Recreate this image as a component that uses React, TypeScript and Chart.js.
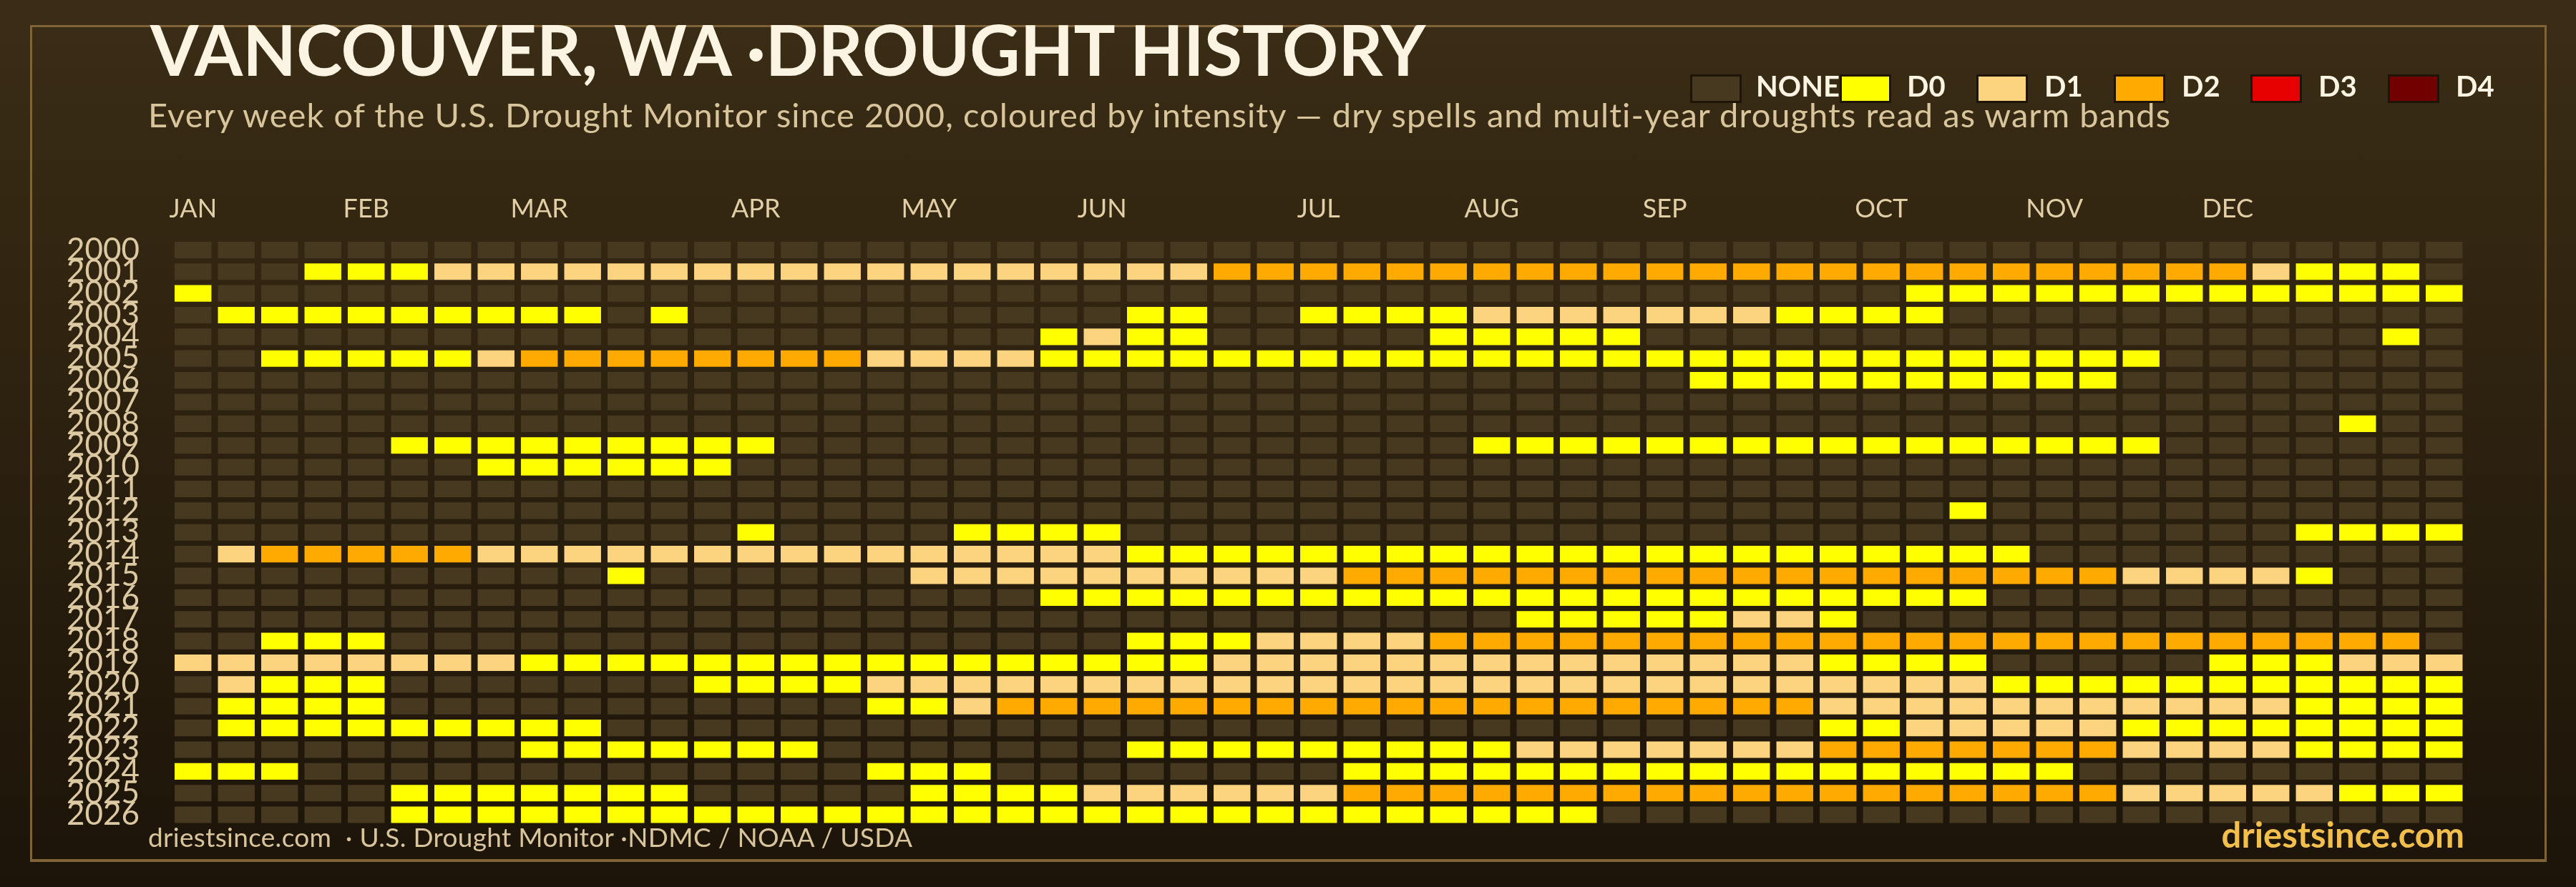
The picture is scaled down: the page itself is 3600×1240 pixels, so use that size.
import React, { useEffect, useRef } from "react";
import { Chart, registerables } from "chart.js";

Chart.register(...registerables);

// ---- data ----
const years = [
  "2000", "2001", "2002", "2003", "2004", "2005", "2006", "2007", "2008",
  "2009", "2010", "2011", "2012", "2013", "2014", "2015", "2016", "2017",
  "2018", "2019", "2020", "2021", "2022", "2023", "2024", "2025", "2026",
];

const monthLabels = ["JAN", "FEB", "MAR", "APR", "MAY", "JUN", "JUL", "AUG", "SEP", "OCT", "NOV", "DEC"];
const monthWeekIndex = [0, 4, 8, 13, 17, 21, 26, 30, 34, 39, 43, 47];

const levelNames = ["NONE", "D0", "D1", "D2", "D3", "D4"];
const levelColors = ["#473920", "#ffff00", "#fcd37f", "#ffaa00", "#e60000", "#730000"];

// weekly drought level per year: 0 none, 1 D0, 2 D1, 3 D2, 4 D3, 5 D4
// (groups: weeks 1-18 | 19-36 | 37-53)
const weekLevels = [
  "000000000000000000|000000000000000000|00000000000000000", // 2000
  "000111222222222222|222222333333333333|33333333333321110", // 2001
  "100000000000000000|000000000000000000|00001111111111111", // 2002
  "011111111101000000|000011001111222222|21111000000000000", // 2003
  "000000000000000000|001211000001111100|00000000000000010", // 2004
  "001111123333333322|221111111111111111|11111111110000000", // 2005
  "000000000000000000|000000000000000001|11111111100000000", // 2006
  "000000000000000000|000000000000000000|00000000000000000", // 2007
  "000000000000000000|000000000000000000|00000000000000100", // 2008
  "000001111111110000|000000000000111111|11111111110000000", // 2009
  "000000011111100000|000000000000000000|00000000000000000", // 2010
  "000000000000000000|000000000000000000|00000000000000000", // 2011
  "000000000000000000|000000000000000000|00000100000000000", // 2012
  "000000000000010000|111100000000000000|00000000000001111", // 2013
  "023333322222222222|222211111111111111|11111110000000000", // 2014
  "000000000010000002|222222222333333333|33333333322221000", // 2015
  "000000000000000000|001111111111111111|11111100000000000", // 2016
  "000000000000000000|000000000000011111|22100000000000000", // 2017
  "001110000000000000|000011122223333333|33333333333333330", // 2018
  "222222221111111111|111111222222222222|22111100000111222", // 2019
  "021110000000111122|222222222222222222|22222211111111111", // 2020
  "011110000000000011|233333333333333333|33222222222221111", // 2021
  "011111111100000000|000000000000000000|00112222211111111", // 2022
  "000000001111111000|000011111111122222|22333333322221111", // 2023
  "111000000000000011|100000000111111111|11111111000000000", // 2024
  "000001111111000001|111222222333333333|33333333322222111", // 2025
  "000001111111111111|111111111111111000|00000000000000000", // 2026
];

const FONT = "Lato, 'Open Sans', 'DejaVu Sans', sans-serif";

export default function App() {
  const canvasRef = useRef<HTMLCanvasElement | null>(null);

  useEffect(() => {
    const canvas = canvasRef.current;
    if (!canvas) return;
    const rows = weekLevels.map((s) => s.replace(/\|/g, "").split("").map(Number));
    const weeks = rows[0].map((_, i) => String(i + 1));
    const half = 0.379;

    const datasets = rows.map((codes, r) => ({
      label: years[r],
      data: codes.map(() => [r - half, r + half]),
      backgroundColor: codes.map((c) => levelColors[c]),
      borderWidth: 0,
      grouped: false,
      barPercentage: 0.85,
      categoryPercentage: 1,
      inflateAmount: 0,
    }));

    const chart = new Chart(canvas, {
      type: "bar",
      data: { labels: weeks, datasets: datasets as any },
      options: {
        animation: false,
        responsive: false,
        devicePixelRatio: 1,
        events: [],
        layout: { padding: { left: 0, top: 0, right: 154, bottom: 85.7 } },
        plugins: {
          legend: { display: false },
          tooltip: { enabled: false },
          title: { display: false },
        },
        scales: {
          x: {
            type: "category",
            position: "top",
            grid: { display: false, drawTicks: false },
            border: { display: false },
            ticks: {
              autoSkip: false,
              maxRotation: 0,
              minRotation: 0,
              padding: 20,
              color: "#e2cfa6",
              font: { family: FONT, size: 36 },
              callback: (_v: any, i: number) => {
                const k = monthWeekIndex.indexOf(i);
                return k >= 0 ? monthLabels[k] : "";
              },
            },
            afterFit: (s: any) => {
              s.height = 334.2;
            },
          },
          y: {
            type: "linear",
            min: -0.5,
            max: 26.5,
            reverse: true,
            grid: { display: false, drawTicks: false },
            border: { display: false },
            afterBuildTicks: (s: any) => {
              s.ticks = years.map((_, i) => ({ value: i }));
            },
            ticks: {
              autoSkip: false,
              padding: 44.5,
              color: "#dcc9a2",
              font: { family: FONT, size: 44 },
              callback: (v: any) => years[v] ?? "",
            },
            afterFit: (s: any) => {
              s.width = 239.5;
            },
          },
        },
      } as any,
    });
    return () => chart.destroy();
  }, []);

  const legendSwatchX = [2362, 2571, 2762, 2954, 3145, 3337];
  const legendTextX = [2454, 2665, 2857, 3049, 3240, 3432];

  return (
    <div
      style={{
        position: "absolute",
        left: 0,
        top: 0,
        width: 3600,
        height: 1240,
        overflow: "hidden",
        background: "linear-gradient(180deg, #3b2d15 0%, #1c1409 100%)",
        fontFamily: FONT,
      }}
    >
      <div
        style={{
          position: "absolute",
          left: 42,
          top: 35,
          width: 3517,
          height: 1170,
          boxSizing: "border-box",
          border: "3px solid #806438",
          borderBottomWidth: 4,
        }}
      />
      <canvas
        ref={canvasRef}
        width={3600}
        height={1240}
        style={{ position: "absolute", left: 0, top: 0, width: 3600, height: 1240 }}
      />
      <div
        style={{
          position: "absolute",
          left: 210,
          top: 20,
          fontSize: 97,
          fontWeight: 700,
          lineHeight: 1,
          color: "#fbf4e2",
          whiteSpace: "nowrap",
        }}
      >
        VANCOUVER, WA ·DROUGHT HISTORY
      </div>
      <div
        style={{
          position: "absolute",
          left: 207,
          top: 137,
          fontSize: 47,
          letterSpacing: 1.05,
          lineHeight: 1,
          color: "#d9c59c",
          whiteSpace: "nowrap",
        }}
      >
        Every week of the U.S. Drought Monitor since 2000, coloured by intensity — dry spells and multi-year droughts read as warm bands
      </div>
      {levelNames.map((name, i) => (
        <React.Fragment key={name}>
          <div
            style={{
              position: "absolute",
              left: legendSwatchX[i],
              top: 104,
              width: 72,
              height: 40,
              boxSizing: "border-box",
              border: "3px solid #1e1509",
              background: levelColors[i],
            }}
          />
          <div
            style={{
              position: "absolute",
              left: legendTextX[i],
              top: 99.5,
              fontSize: 40,
              fontWeight: 700,
              lineHeight: 1,
              color: "#fbf4e2",
              whiteSpace: "nowrap",
            }}
          >
            {name}
          </div>
        </React.Fragment>
      ))}
      <div
        style={{
          position: "absolute",
          left: 207,
          top: 1151,
          fontSize: 37,
          letterSpacing: 0.3,
          lineHeight: 1,
          color: "#d9c59c",
          whiteSpace: "pre",
        }}
      >
        {"driestsince.com  · U.S. Drought Monitor ·NDMC / NOAA / USDA"}
      </div>
      <div
        style={{
          position: "absolute",
          right: 156,
          top: 1142,
          fontSize: 49,
          fontWeight: 700,
          lineHeight: 1,
          color: "#f2bf4c",
          whiteSpace: "nowrap",
        }}
      >
        driestsince.com
      </div>
    </div>
  );
}
